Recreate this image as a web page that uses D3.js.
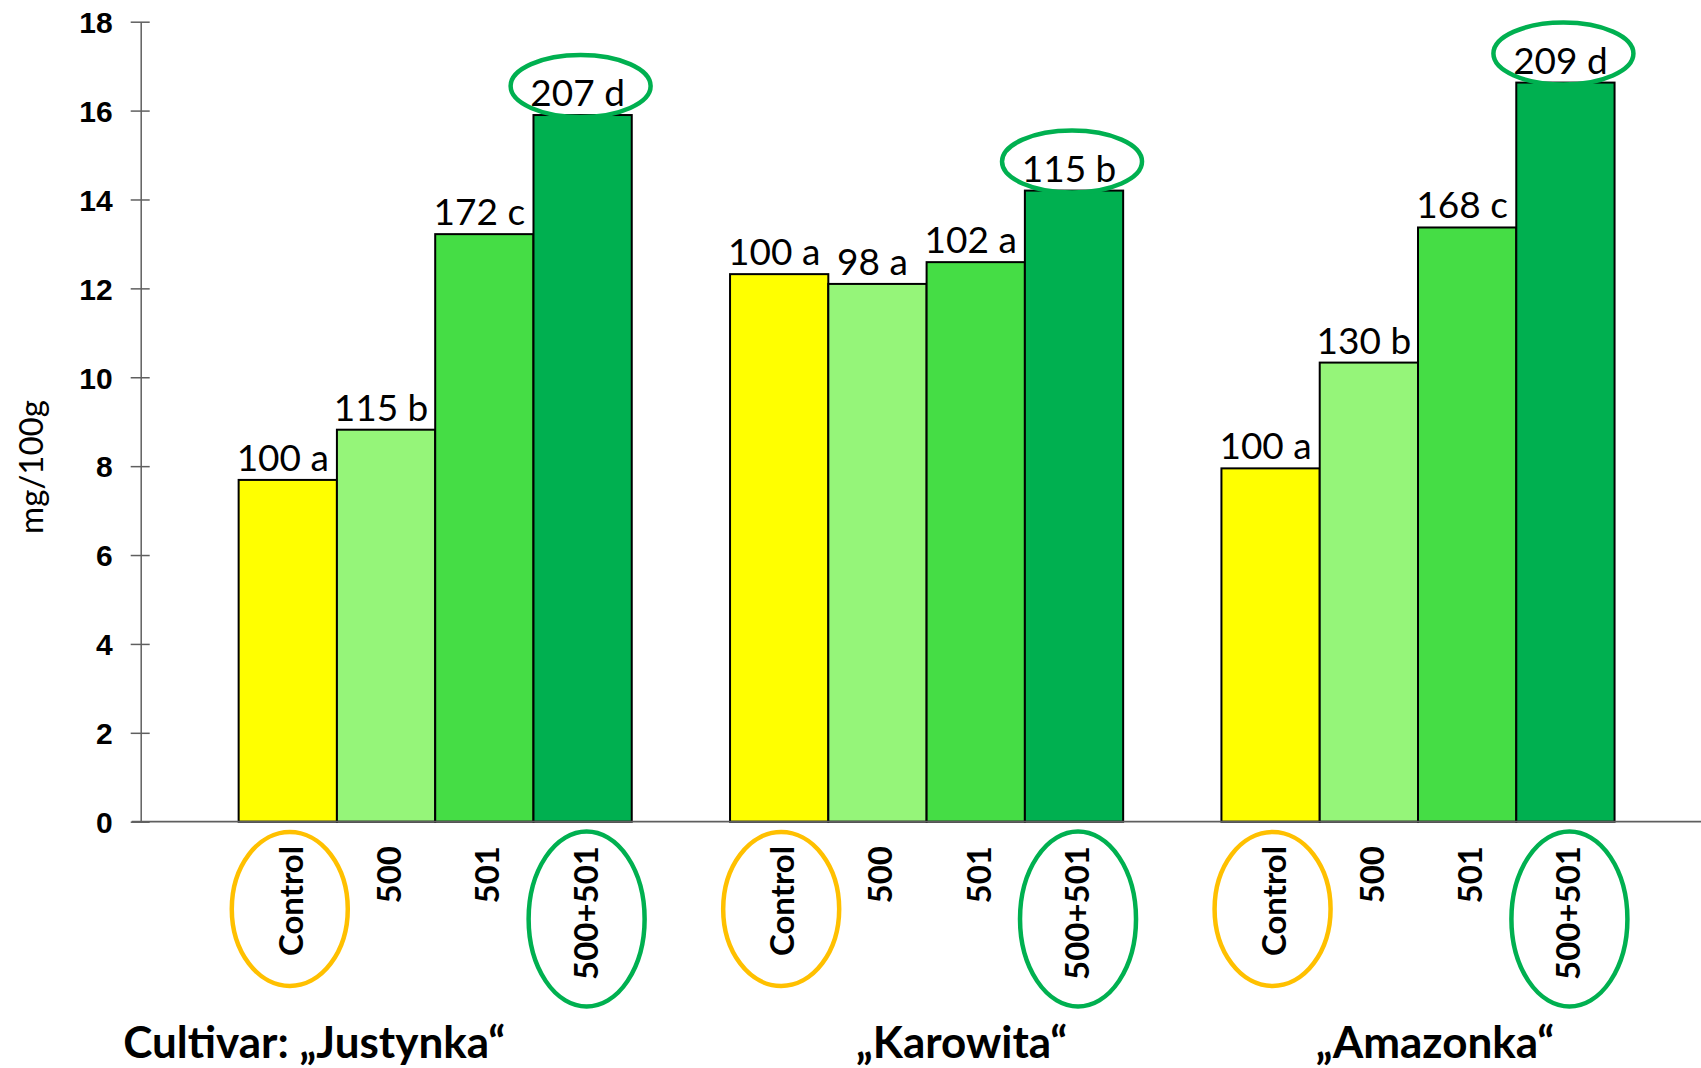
<!DOCTYPE html>
<html>
<head>
<meta charset="utf-8">
<script src="https://cdn.jsdelivr.net/npm/d3@7"></script>
<style>
  html, body { margin: 0; padding: 0; background: #ffffff; }
  svg { display: block; }
</style>
</head>
<body>
<svg id="chart" width="1701" height="1068"></svg>
<script>
// Cultivars (groups) and treatments (bars within each group)
const cultivars = ["Justynka", "Karowita", "Amazonka"];
const cultivarLabels = ["Cultivar: „Justynka“", "„Karowita“", "„Amazonka“"];
const treatments = ["Control", "500", "501", "500+501"];

// Content in mg/100g per treatment
const justynkaValues = [7.69, 8.82, 13.22, 15.90];
const karowitaValues = [12.32, 12.10, 12.59, 14.20];
const amazonkaValues = [7.95, 10.33, 13.37, 16.63];

// Relative value (control = 100) with significance letters
const justynkaLabels = ["100 a", "115 b", "172 c", "207 d"];
const karowitaLabels = ["100 a", "98 a", "102 a", "115 b"];
const amazonkaLabels = ["100 a", "130 b", "168 c", "209 d"];

const yTickValues = [0, 2, 4, 6, 8, 10, 12, 14, 16, 18];
const yAxisTitle = "mg/100g";

// ---- styling ----
const treatmentColors = ["#FFFF00", "#95F579", "#45DD45", "#00B050"];
const axisColor = "#5f5f5f";
const ringGreen = "#00B050";
const ringOrange = "#FFC000";
const labelShift = [-121, 35, 17]; // cultivar caption offset from group centre

const valuesByCultivar = [justynkaValues, karowitaValues, amazonkaValues];
const labelsByCultivar = [justynkaLabels, karowitaLabels, amazonkaLabels];

const svg = d3.select("#chart");

const x0 = d3.scaleBand()
  .domain(cultivars)
  .range([189.5, 1663.7])
  .paddingInner(0.2)
  .paddingOuter(0.1);

const x1 = d3.scaleBand()
  .domain(treatments)
  .range([0, x0.bandwidth()]);

const y = d3.scaleLinear()
  .domain([0, 18])
  .range([821.7, 21.7]);

const rows = [];
cultivars.forEach((c, ci) => {
  treatments.forEach((t, ti) => {
    rows.push({
      cultivar: c, ci, treatment: t, ti,
      value: valuesByCultivar[ci][ti],
      label: labelsByCultivar[ci][ti]
    });
  });
});
const cx = d => x0(d.cultivar) + x1(d.treatment) + x1.bandwidth() / 2;

// ---- y axis ----
const yAxis = d3.axisLeft(y)
  .tickValues(yTickValues)
  .tickSizeInner(10)
  .tickSizeOuter(0)
  .tickPadding(0);

const yAxisG = svg.append("g")
  .attr("transform", "translate(140.7,0)")
  .call(yAxis);
yAxisG.select(".domain").attr("stroke", axisColor).attr("stroke-width", 1.5);
yAxisG.selectAll(".tick line")
  .attr("x1", 9).attr("x2", -10)
  .attr("stroke", axisColor).attr("stroke-width", 1.5);
yAxisG.selectAll(".tick text")
  .attr("x", -28)
  .attr("dy", "0.36em")
  .attr("fill", "#000")
  .style("font-family", "'Liberation Sans', Arial, sans-serif")
  .style("font-weight", "bold")
  .style("font-size", "30px");

// y axis title
svg.append("text")
  .attr("transform", "translate(43,467) rotate(-90)")
  .attr("text-anchor", "middle")
  .style("font-family", "Lato, 'Open Sans', sans-serif")
  .style("font-size", "33px")
  .attr("fill", "#000")
  .text(yAxisTitle);

// ---- bars ----
svg.append("g").selectAll("rect")
  .data(rows)
  .join("rect")
  .attr("x", d => x0(d.cultivar) + x1(d.treatment))
  .attr("width", x1.bandwidth())
  .attr("y", d => y(d.value))
  .attr("height", d => y(0) - y(d.value))
  .attr("fill", d => treatmentColors[d.ti])
  .attr("stroke", "#000")
  .attr("stroke-width", 2);

// ---- category baseline ----
svg.append("line")
  .attr("x1", 131.7).attr("x2", 1701)
  .attr("y1", y(0)).attr("y2", y(0))
  .attr("stroke", axisColor)
  .attr("stroke-width", 1.8);

// ---- value labels ----
svg.append("g").selectAll("text")
  .data(rows)
  .join("text")
  .attr("x", d => cx(d) - 5)
  .attr("y", d => y(d.value) - 9)
  .attr("text-anchor", "middle")
  .style("font-family", "Lato, 'Open Sans', sans-serif")
  .style("font-size", "37px")
  .attr("fill", "#000")
  .text(d => d.label);

// rings around the combined-treatment values
svg.append("g").selectAll("ellipse")
  .data(rows.filter(d => d.ti === 3))
  .join("ellipse")
  .attr("cx", d => cx(d) - 2)
  .attr("cy", d => y(d.value) - 29)
  .attr("rx", 70)
  .attr("ry", 31)
  .attr("fill", "none")
  .attr("stroke", ringGreen)
  .attr("stroke-width", 4.5);

// ---- treatment labels under the bars ----
svg.append("g").selectAll("text")
  .data(rows)
  .join("text")
  .attr("transform", d => `translate(${cx(d) + 15},846) rotate(-90)`)
  .attr("text-anchor", "end")
  .style("font-family", "Lato, 'Open Sans', sans-serif")
  .style("font-weight", "bold")
  .style("font-size", "33px")
  .attr("fill", "#000")
  .text(d => d.treatment);

// rings around Control and 500+501 labels
svg.append("g").selectAll("ellipse")
  .data(rows.filter(d => d.ti === 0 || d.ti === 3))
  .join("ellipse")
  .attr("cx", d => cx(d) + (d.ti === 0 ? 2 : 4))
  .attr("cy", d => d.ti === 0 ? 909 : 919)
  .attr("rx", 58)
  .attr("ry", d => d.ti === 0 ? 77 : 87.5)
  .attr("fill", "none")
  .attr("stroke", d => d.ti === 0 ? ringOrange : ringGreen)
  .attr("stroke-width", 4.5);

// ---- cultivar captions ----
svg.append("g").selectAll("text")
  .data(cultivars)
  .join("text")
  .attr("x", (c, i) => x0(c) + x0.bandwidth() / 2 + labelShift[i])
  .attr("y", 1058)
  .attr("text-anchor", "middle")
  .style("font-family", "Lato, 'Open Sans', sans-serif")
  .style("font-weight", "bold")
  .style("font-size", "44px")
  .attr("fill", "#000")
  .text((c, i) => cultivarLabels[i]);
</script>
</body>
</html>
